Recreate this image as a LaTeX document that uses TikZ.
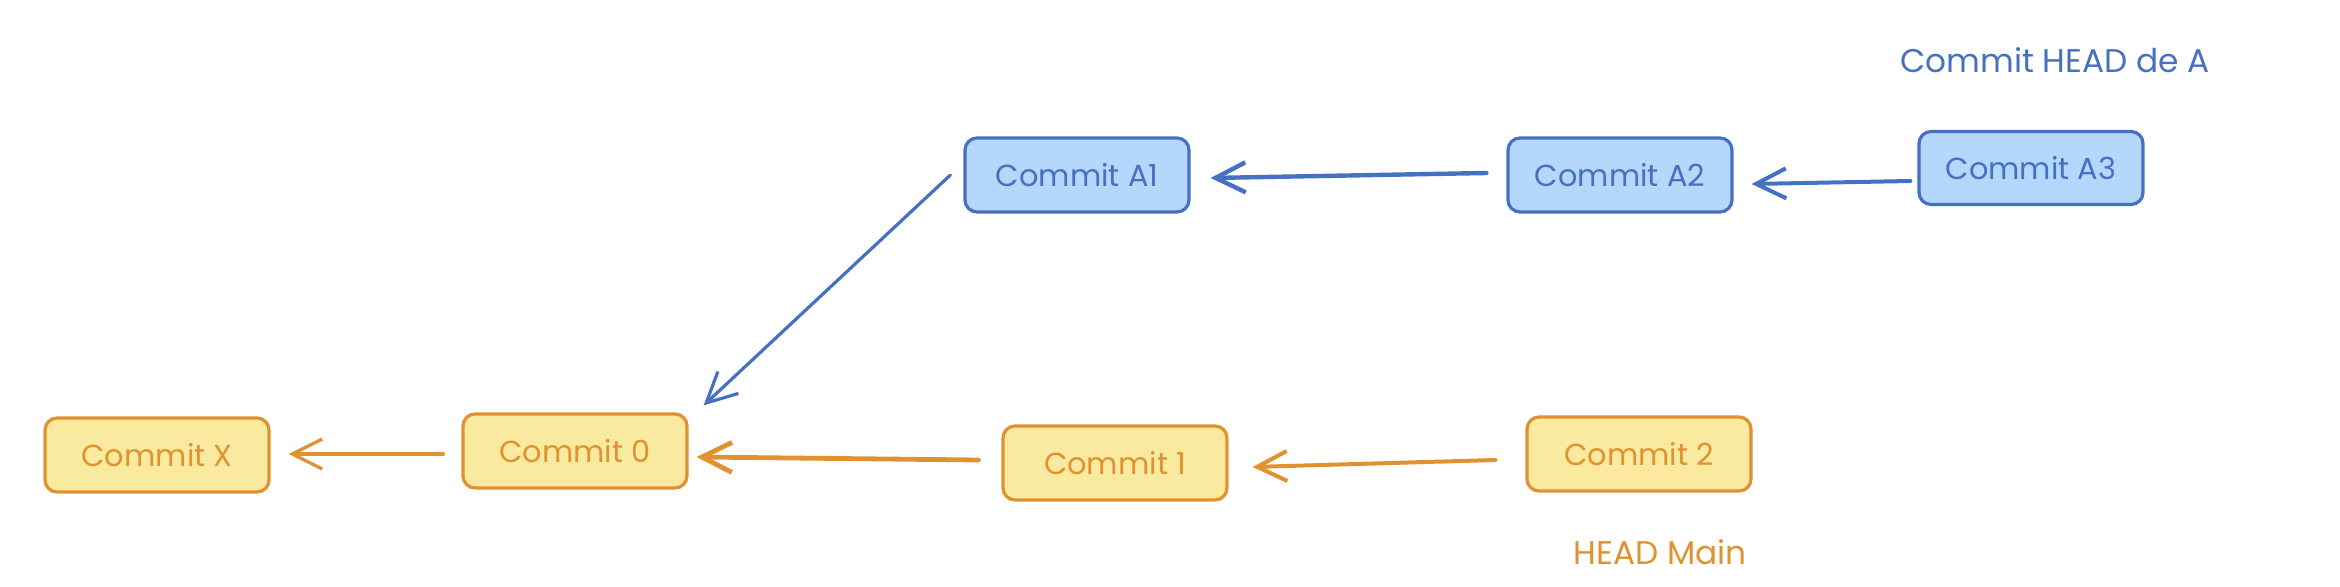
\documentclass[tikz,border=0pt]{standalone}
\usepackage{fontspec}
\setmainfont{Poppins}
\usetikzlibrary{arrows.meta}
\definecolor{bstroke}{HTML}{4671C0}
\definecolor{bfill}{HTML}{B4D7FB}
\definecolor{ystroke}{HTML}{DF922F}
\definecolor{yfill}{HTML}{F9EAA0}
\begin{document}
\begin{tikzpicture}[x=0.5pt,y=-0.5pt,
  box/.style={draw, rounded corners=6pt, line width=1.6pt, minimum width=112pt, minimum height=37pt, font=\fontsize{15.2}{18}\selectfont, inner sep=0pt},
  bluebox/.style={box, draw=bstroke, fill=bfill, text=bstroke},
  yellowbox/.style={box, draw=ystroke, fill=yfill, text=ystroke},
  arr/.style={-{Straight Barb[length=15pt,width=15pt]}, line width=1.8pt, line cap=round, line join=round},
  barr/.style={arr, draw=bstroke},
  yarr/.style={arr, draw=ystroke},
  lbl/.style={font=\fontsize{16.4}{19}\selectfont, inner sep=0pt}
]
\useasboundingbox (0,0) rectangle (2340,587);
% nodes
\node[yellowbox] (cx) at (157,455) {Commit X};
\node[yellowbox] (c0) at (575,451) {Commit 0};
\node[yellowbox] (c1) at (1115,463) {Commit 1};
\node[yellowbox] (c2) at (1639,454) {Commit 2};
\node[bluebox] (a1) at (1077,175) {Commit A1};
\node[bluebox] (a2) at (1620,175) {Commit A2};
\node[bluebox, minimum height=36.5pt] (a3) at (2031,168) {Commit A3};
\node[lbl, text=bstroke] (hA) at (2055,60) {Commit HEAD de A};
\node[lbl, text=ystroke] (hM) at (1660,552) {HEAD Main};
% arrows
\draw[yarr, line width=1.6pt] ([xshift=-9pt,yshift=-1.5pt]c0.west) -- ([xshift=9pt,yshift=0.5pt]cx.east);
\draw[yarr, line width=2.4pt] ([xshift=-11.5pt,yshift=1.5pt]c1.west) -- ([xshift=4pt,yshift=-3pt]c0.east);
\draw[yarr, line width=2pt] ([xshift=-15pt,yshift=-3pt]c2.west) -- ([xshift=12pt,yshift=-2pt]c1.east);
\draw[barr, line width=1.6pt] ([xshift=-6.5pt]a1.west) -- ([xshift=7.5pt,yshift=3.5pt]c0.north east);
\draw[barr, line width=2.2pt] ([xshift=-10pt,yshift=1pt]a2.west) -- ([xshift=10pt,yshift=-1.5pt]a1.east);
\draw[barr, line width=2pt] ([xshift=-3.5pt,yshift=-6.5pt]a3.west) -- ([xshift=9pt,yshift=-4.5pt]a2.east);
\end{tikzpicture}
\end{document}
